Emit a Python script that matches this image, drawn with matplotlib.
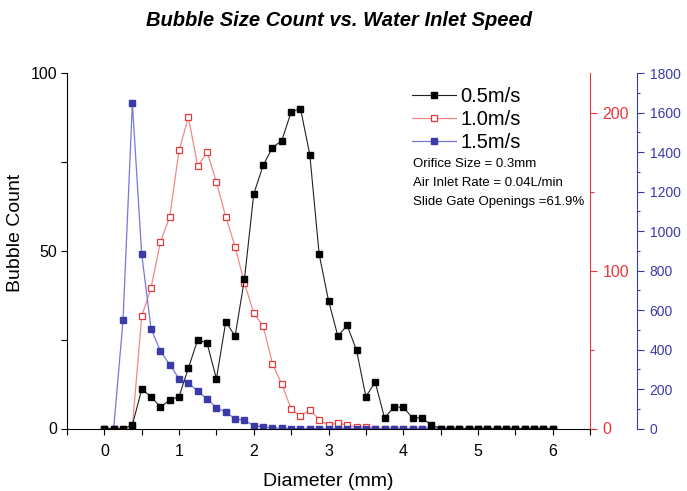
import numpy as np
import matplotlib
matplotlib.use("Agg")
import matplotlib.pyplot as plt
from matplotlib.ticker import MultipleLocator

plt.rcParams['font.family'] = ['Liberation Sans', 'DejaVu Sans']

# diameter bins (mm)
diameter = np.arange(49) * 0.125

# 0.5 m/s, left axis
count_05 = [0, 0, 0, 1, 11, 9, 6, 8, 9, 17, 25, 24, 14, 30, 26, 42,
            66, 74, 79, 81, 89, 90, 77, 49, 36, 26, 29, 22, 9, 13, 3, 6,
            6, 3, 3, 1, 0, 0, 0, 0, 0, 0, 0, 0, 0, 0, 0, 0, 0]
# 1.0 m/s, red axis
count_10 = [0, 0, 0, 1, 71, 89, 118, 134, 176, 197, 166, 175, 156, 134, 115, 92,
            73, 65, 41, 28, 12.5, 7.6, 12, 5.5, 2, 3.6, 2, 1, 1, 0, 0, 0,
            0, 0, 0, 0, 0, 0, 0, 0, 0, 0, 0, 0, 0, 0, 0, 0, 0]
# 1.5 m/s, blue axis
count_15 = [0, 0, 548, 1646, 882, 505, 392, 324, 252, 230, 189, 150, 105, 83, 49, 41,
            15, 7, 4, 2, 0, 0, 0, 0, 0, 0, 0, 0, 0, 0, 0, 0,
            0, 0, 0, 0, 0, 0, 0, 0, 0, 0, 0, 0, 0, 0, 0, 0, 0]

labels = ['0.5m/s', '1.0m/s', '1.5m/s']
notes = ['Orifice Size = 0.3mm', 'Air Inlet Rate = 0.04L/min', 'Slide Gate Openings =61.9%']

RED = '#e8383a'
BLUE = '#3a3aa8'

fig = plt.figure(figsize=(6.87, 4.91), dpi=100)
ax = fig.add_axes([67/687, 1-428.5/491, (590-67)/687, (428.5-73)/491])
ax2 = ax.twinx()
ax3 = ax.twinx()

l1, = ax.plot(diameter, count_05, '-s', color='#222222', lw=0.8, ms=5,
              mfc='black', mec='black')
l2, = ax2.plot(diameter, count_10, '-s', color='#f08a8a', lw=0.9, ms=5,
               mfc='white', mec=RED, mew=0.9)
l3, = ax3.plot(diameter, count_15, '-s', color='#7878d8', lw=0.9, ms=5,
               mfc=BLUE, mec=BLUE)

ax.set_zorder(3)
ax.patch.set_visible(False)

ax.set_xlim(-0.5, 6.5)
ax.set_ylim(0, 100)
ax2.set_ylim(0, 225)
ax3.set_ylim(0, 1800)

ax.xaxis.set_major_locator(MultipleLocator(1))
ax.xaxis.set_minor_locator(MultipleLocator(0.5))
ax.yaxis.set_major_locator(MultipleLocator(50))
ax.yaxis.set_minor_locator(MultipleLocator(25))
ax2.yaxis.set_major_locator(MultipleLocator(100))
ax2.yaxis.set_minor_locator(MultipleLocator(50))
ax3.yaxis.set_major_locator(MultipleLocator(200))
ax3.yaxis.set_minor_locator(MultipleLocator(100))

for s in ['top', 'right']:
    ax.spines[s].set_visible(False)
for s in ['top', 'left', 'bottom']:
    ax2.spines[s].set_visible(False)
    ax3.spines[s].set_visible(False)
ax2.spines['right'].set_color(RED)
ax3.spines['right'].set_color(BLUE)
ax3.spines['right'].set_position(('outward', 34))

ax.tick_params(axis='x', which='both', direction='out', length=4, width=0.8, pad=7, labelsize=11.5)
ax.tick_params(axis='y', which='both', direction='out', length=4, width=0.8, pad=3, labelsize=11.5)
ax2.tick_params(axis='y', which='major', direction='out', length=5, width=0.8, colors=RED, pad=4, labelsize=11.5)
ax2.tick_params(axis='y', which='minor', direction='out', length=3, width=0.8, colors=RED)
ax3.tick_params(axis='y', which='major', direction='out', length=5, width=0.8, colors=BLUE, pad=4, labelsize=10)
ax3.tick_params(axis='y', which='minor', direction='out', length=2.5, width=0.8, colors=BLUE)

ax.set_xlabel('Diameter (mm)', fontsize=14, labelpad=10)
ax.set_ylabel('Bubble Count', fontsize=14)
ax.yaxis.set_label_coords(-0.082, 0.55)

fig.suptitle('Bubble Size Count vs. Water Inlet Speed', x=0.494, y=0.978,
             fontsize=14.5, fontweight='bold', fontstyle='italic')

fig.legend([l1, l2, l3], labels, loc='upper left', bbox_to_anchor=(412/687, 1-87/491),
           frameon=False, fontsize=14.5, handlelength=2.2, handletextpad=0.2,
           labelspacing=0.2, borderaxespad=0, borderpad=0)

for i, t in enumerate(notes):
    fig.text(413/687, 1-(164+19*i)/491, t, fontsize=9.5, va='center', ha='left')

fig.savefig('out.png', dpi=100)
